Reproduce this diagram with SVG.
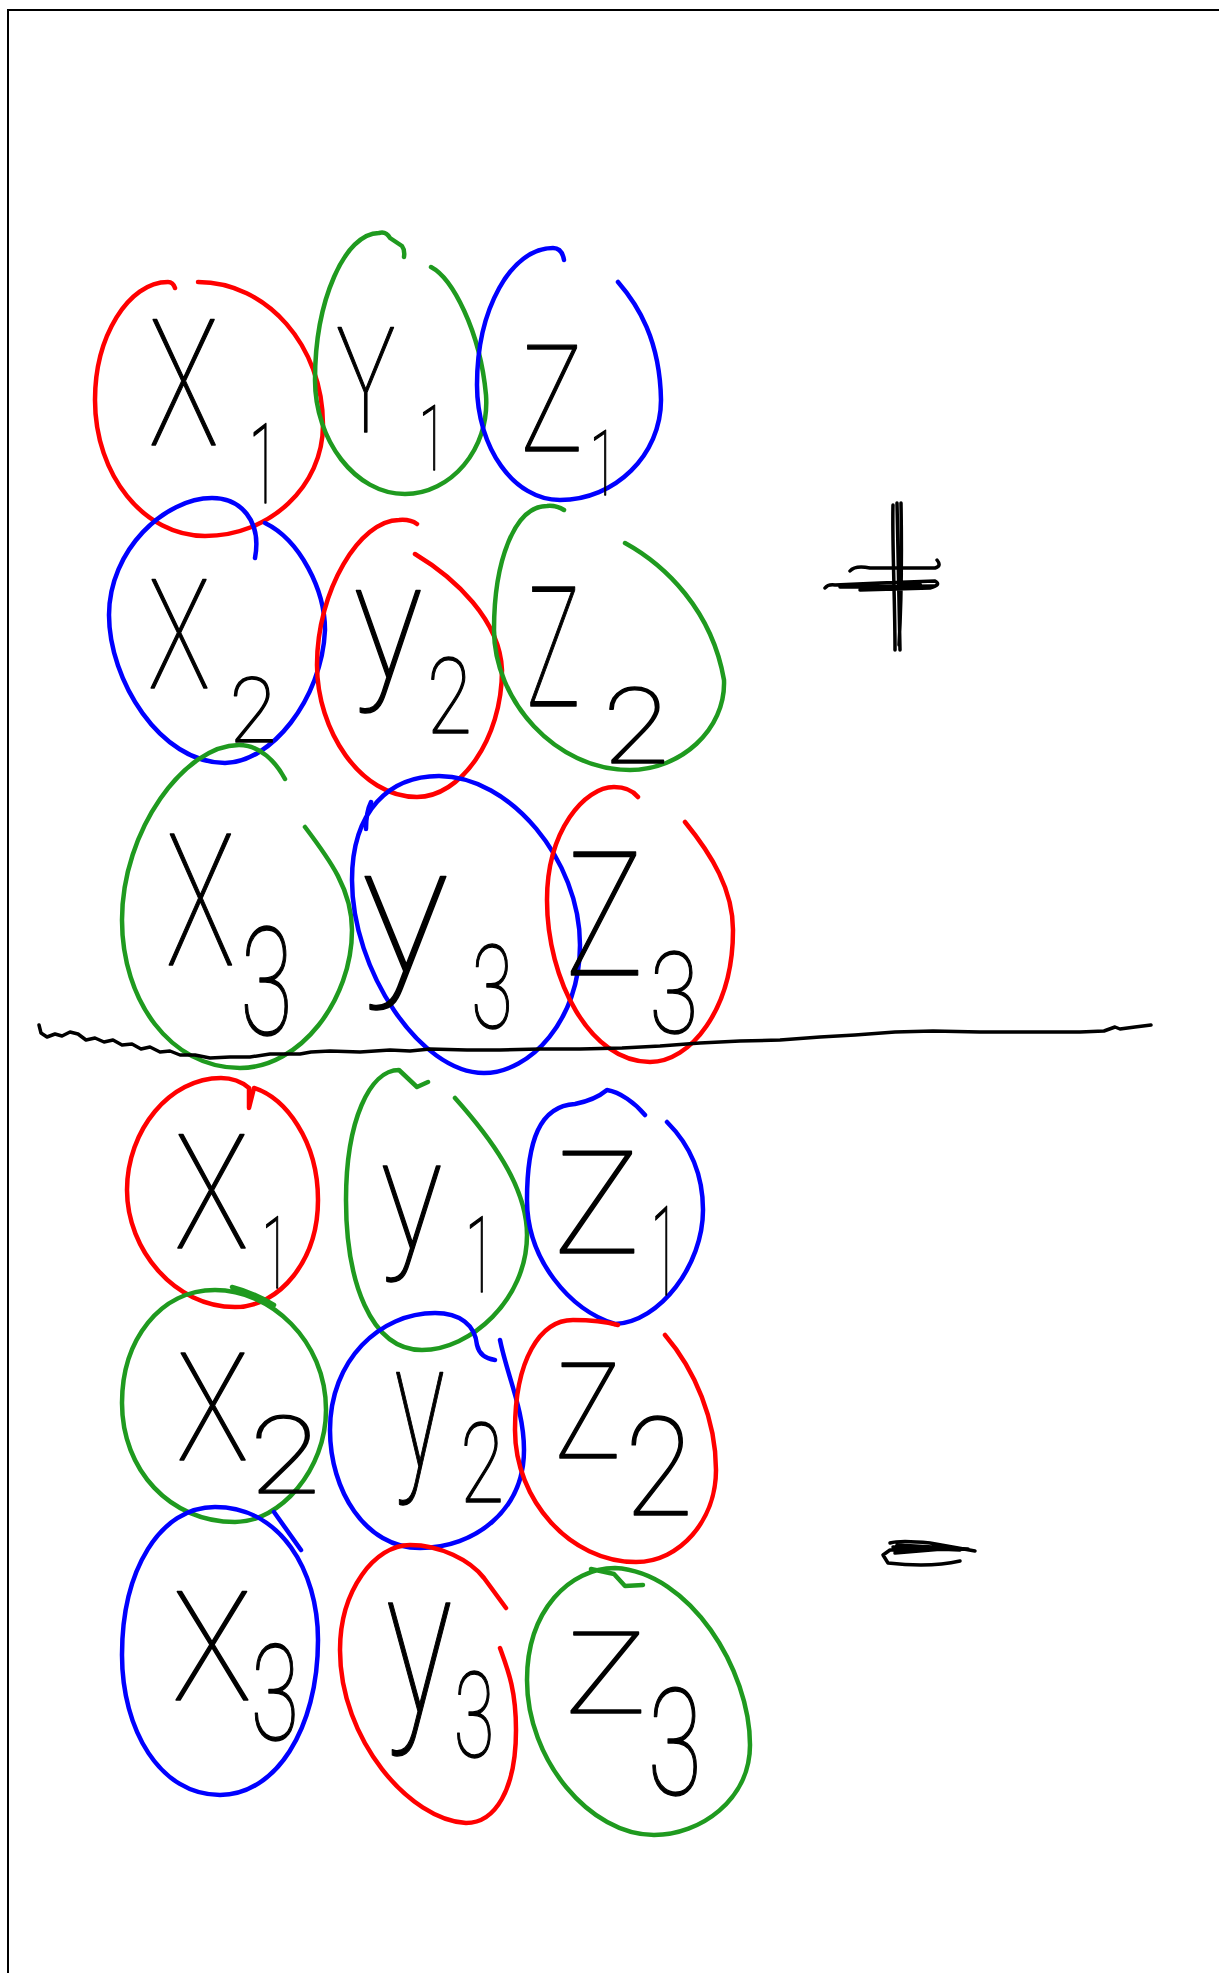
<svg xmlns="http://www.w3.org/2000/svg" width="1219" height="1973" viewBox="0 0 1219 1973">
<style>
.e{fill:none;stroke-width:4.5;stroke-linecap:round;stroke-linejoin:round}
.r{stroke:#ff0000}.g{stroke:#1f9a1f}.b{stroke:#0000ff}
.k{fill:none;stroke:#000;stroke-width:3.5;stroke-linecap:round;stroke-linejoin:round}
.t{font-family:Roboto,"Liberation Sans",sans-serif;font-weight:100;fill:#000;stroke:#000;stroke-width:1.4;stroke-linejoin:round;text-anchor:middle}
</style>
<rect width="1219" height="1973" fill="#fff"/>
<path d="M8,1973 L8,10 L1219,10" fill="none" stroke="#000" stroke-width="2"/>

<g id="top-x1"><path class="e r" d="M198,282 C267,282 323,346 323,425 C323,486 270,536 205,536 C144,536 95,475 95,400 C95,337 128,282 168,282 Q173,282 175,288"/>
<text class="t" transform="translate(183.5,445) scale(0.66,1)" font-size="177">X</text>
<text class="t" transform="translate(263.5,503) scale(0.48,1)" font-size="111">1</text></g>
<g id="top-y1"><path class="e g" d="M431,267 C452,278 480,330 486,395 C490,450 450,494 405,494 C355,494 315,440 315,380 C315,300 345,233 379,233 Q386,231 390,238 L402,246 Q405,250 404,257"/>
<text class="t" transform="translate(366,432) scale(0.68,1)" font-size="146">Y</text>
<text class="t" transform="translate(432.5,470) scale(0.55,1)" font-size="91">1</text></g>
<g id="top-z1"><path class="e b" d="M618,282 C638,305 660,340 661,400 C661,455 615,500 560,500 C514,500 477,448 477,385 C477,309 511,248 553,248 Q562,248 564,260"/>
<text class="t" transform="translate(552,451) scale(0.70,1)" font-size="149">Z</text>
<text class="t" transform="translate(603.5,495) scale(0.55,1)" font-size="91">1</text></g>

<g id="top-x2"><path class="e b" d="M265,523 C300,540 325,590 325,630 C322,700 270,763 225,763 C160,763 109,680 109,615 C109,550 165,498 212,498 C240,498 262,520 255,558"/>
<text class="t" transform="translate(179,688) scale(0.675,1)" font-size="153">X</text>
<text class="t" transform="translate(253,742) scale(0.94,1)" font-size="91">2</text></g>
<g id="top-y2"><path class="e r" d="M415,554 C455,578 500,620 502,670 C502,740 460,797 417,797 C360,797 317,730 317,665 C317,590 360,520 399,520 Q410,519 417,524"/>
<text class="t" transform="translate(388,678) scale(0.88,1)" font-size="165">y</text>
<text class="t" transform="translate(449.5,733) scale(0.78,1)" font-size="105">2</text></g>
<g id="top-z2"><path class="e g" d="M625,543 C665,565 712,610 724,680 C726,730 680,770 630,770 C555,770 494,700 494,630 C494,560 515,506 547,506 Q556,505 564,510"/>
<text class="t" transform="translate(553.5,706) scale(0.54,1)" font-size="167">Z</text>
<text class="t" transform="translate(636,763) scale(1.15,1)" font-size="105">2</text></g>

<g id="top-x3"><path class="e g" d="M305,827 C330,860 352,890 352,930 C352,1000 300,1068 240,1068 C170,1068 122,1000 122,920 C122,830 185,745 239,745 C260,745 276,762 285,779"/>
<text class="t" transform="translate(200.5,965) scale(0.63,1)" font-size="183">X</text>
<text class="t" transform="translate(266.5,1035) scale(0.64,1)" font-size="150">3</text></g>
<g id="top-y3"><path class="e b" d="M439,776 C510,776 580,860 580,945 C580,1020 530,1073 484,1073 C420,1073 352,970 352,880 C352,810 390,776 439,776 Z M366,829 C366,815 368,808 371,802"/>
<text class="t" transform="translate(405,972) scale(1.02,1)" font-size="180">y</text>
<text class="t" transform="translate(492,1028) scale(0.65,1)" font-size="117">3</text></g>
<g id="top-z3"><path class="e r" d="M685,822 C712,855 733,890 733,930 C733,1010 690,1062 650,1062 C590,1062 547,980 547,900 C547,830 585,787 614,787 Q630,787 638,797"/>
<text class="t" transform="translate(604.5,975) scale(0.76,1)" font-size="173">Z</text>
<text class="t" transform="translate(674,1033) scale(0.79,1)" font-size="113">3</text></g>

<g id="rule"><path class="k" d="M39,1025 L41,1033 L47,1037 L55,1034 L62,1036 L70,1032 L78,1034 L86,1040 L95,1038 L104,1042 L113,1040 L122,1045 L132,1044 L141,1049 L150,1047 L160,1052 L170,1051 L180,1055 L195,1055 L210,1058 L230,1057 L250,1057 L270,1054 L300,1054 L311,1052 L330,1051 L360,1052 L390,1050 L410,1051 L430,1049 L467,1050 L500,1050 L540,1049 L580,1049 L622,1048 L660,1046 L700,1043 L740,1041 L780,1040 L820,1037 L855,1035 L895,1032 L933,1031 L980,1032 L1030,1032 L1080,1032 L1104,1031 L1115,1027 L1120,1029 L1135,1027 L1151,1025"/></g>

<g id="plus"><path class="k" d="M893,505 C892,540 895,600 895,650 M897,503 C898,560 899,610 900,650 M901,503 C902,560 901,610 899,645 M850,571 Q855,565 870,568 L935,568 Q942,566 937,560 M825,588 Q828,584 835,585 L880,583 L935,581 Q942,585 930,588 L860,590 L920,584 M840,587 L935,586"/></g>

<g id="bot-x1"><path class="e r" d="M249,1088 L249,1108 L254,1088 C285,1098 318,1140 318,1200 C318,1260 280,1307 235,1307 C175,1307 127,1250 127,1190 C127,1130 170,1078 221,1078 C232,1078 242,1082 249,1088"/>
<text class="t" transform="translate(211.5,1248) scale(0.78,1)" font-size="159">X</text>
<text class="t" transform="translate(275.5,1288) scale(0.5,1)" font-size="100">1</text></g>
<g id="bot-y1"><path class="e g" d="M455,1098 C488,1135 527,1185 527,1235 C527,1300 470,1350 422,1350 C370,1350 346,1280 346,1200 C346,1120 370,1070 399,1070 L417,1087 L428,1082"/>
<text class="t" transform="translate(411.5,1249) scale(0.83,1)" font-size="156">y</text>
<text class="t" transform="translate(480,1292) scale(0.51,1)" font-size="105">1</text></g>
<g id="bot-z1"><path class="e b" d="M667,1122 C690,1145 703,1175 703,1210 C703,1265 660,1322 615,1324 C570,1310 527,1260 527,1200 C527,1140 540,1106 575,1104 Q595,1100 607,1090 C620,1092 635,1103 645,1115"/>
<text class="t" transform="translate(597,1253) scale(1.02,1)" font-size="142">Z</text>
<text class="t" transform="translate(664.5,1295) scale(0.4,1)" font-size="124">1</text></g>

<g id="bot-x2"><path class="e g" d="M215,1290 C270,1290 326,1340 326,1410 C326,1470 280,1522 235,1522 C170,1522 122,1470 122,1403 C122,1340 160,1290 215,1290 Z M232,1287 Q255,1293 274,1305"/>
<text class="t" transform="translate(212.5,1460) scale(0.8,1)" font-size="150">X</text>
<text class="t" transform="translate(285,1493) scale(1.2,1)" font-size="107">2</text></g>
<g id="bot-y2"><path class="e b" d="M500,1340 C507,1375 524,1410 524,1450 C524,1510 475,1548 420,1548 C365,1548 330,1490 330,1430 C330,1360 380,1313 435,1313 C460,1313 475,1325 477,1345 Q480,1358 495,1360"/>
<text class="t" transform="translate(419.5,1467) scale(0.59,1)" font-size="179">y</text>
<text class="t" transform="translate(482,1502) scale(0.72,1)" font-size="111">2</text></g>
<g id="bot-z2"><path class="e r" d="M665,1335 C695,1370 716,1420 716,1470 C716,1520 680,1562 636,1562 C570,1562 515,1500 515,1430 C515,1360 540,1320 573,1320 Q600,1320 618,1325"/>
<text class="t" transform="translate(588,1458) scale(0.83,1)" font-size="134">Z</text>
<text class="t" transform="translate(659,1515) scale(0.9,1)" font-size="138">2</text></g>

<g id="bot-x3"><path class="e b" d="M215,1507 C280,1507 318,1570 318,1640 C318,1730 275,1795 220,1795 C160,1795 122,1730 122,1655 C122,1570 160,1507 215,1507 Z M274,1512 L301,1550"/>
<text class="t" transform="translate(212,1700) scale(0.87,1)" font-size="152">X</text>
<text class="t" transform="translate(275,1740) scale(0.66,1)" font-size="134">3</text></g>
<g id="bot-y3"><path class="e r" d="M500,1648 C508,1670 516,1690 516,1730 C516,1790 495,1823 466,1823 C410,1820 340,1740 340,1650 C340,1590 375,1545 410,1545 C440,1545 470,1560 484,1578 L506,1608"/>
<text class="t" transform="translate(419,1712) scale(0.68,1)" font-size="206">y</text>
<text class="t" transform="translate(474,1757) scale(0.63,1)" font-size="118">3</text></g>
<g id="bot-z3"><path class="e g" d="M615,1568 C690,1572 750,1670 750,1745 C750,1800 700,1835 654,1835 C590,1835 527,1760 527,1680 C527,1610 570,1568 615,1568 Z M591,1569 L614,1574 L625,1586 L643,1585"/>
<text class="t" transform="translate(606,1713) scale(1.2,1)" font-size="114">Z</text>
<text class="t" transform="translate(675,1795) scale(0.67,1)" font-size="148">3</text></g>

<g id="equals"><path class="k" d="M890,1543 Q900,1540 930,1543 L975,1551 M893,1547 L960,1550 M897,1545 L968,1549 L890,1550 L883,1555 L888,1563 Q930,1568 960,1561 M895,1553 L955,1548"/></g>
<g id="connectors"/>
</svg>
